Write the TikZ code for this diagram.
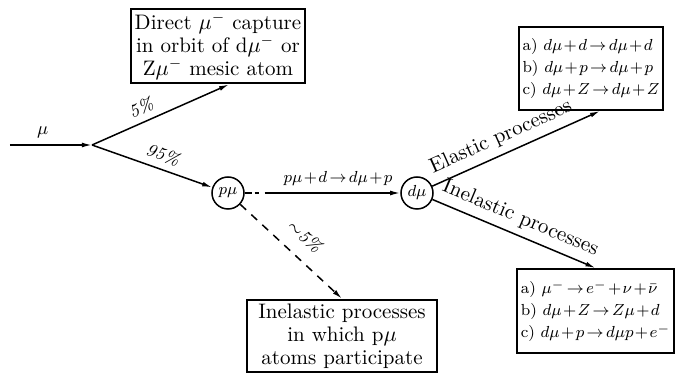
\documentclass[tikz,border=0pt]{standalone}
\usepackage{amsmath}
\usetikzlibrary{arrows.meta,positioning}
\newcommand\tightmath{\medmuskip=1.5mu\relax\thickmuskip=2.5mu\relax}

\begin{document}
\begin{tikzpicture}[x=0.5pt,y=-0.5pt,
  procbox/.style={draw,line width=1pt,align=center,inner sep=2pt,
    minimum width=83.5pt,minimum height=36pt,font=\fontsize{10.5}{11.5}\selectfont},
  reacbox/.style={draw,line width=1pt,align=left,inner sep=2pt,
    font=\fontsize{8}{11}\selectfont\tightmath},
  atom/.style={draw,circle,line width=0.75pt,minimum size=16pt,inner sep=0pt,font=\footnotesize},
  arr/.style={-{Latex[length=5pt,width=2.4pt]},line width=0.75pt},
  lbl/.style={font=\small\itshape,sloped,above}
]
  \useasboundingbox (0,0) rectangle (677,374);

  % Incoming muon
  \coordinate (start) at (10,145);
  \coordinate (split) at (92,145);
  \draw[arr] (start) -- (split) node[lbl,pos=0.4] {$\mu$};

  % Mesic atoms
  \node[atom] (pmu) at (228,193) {$p\mu$};
  \node[atom] (dmu) at (417,193) {$d\mu$};

  % Process boxes
  \node[procbox] (capture) at (218,46)
    {Direct $\mu^-$ capture\\in orbit of d$\mu^-$ or\\Z$\mu^-$ mesic atom};
  \node[procbox,minimum width=95pt] (pinel) at (342,336)
    {Inelastic processes\\in which p$\mu$\\atoms participate};
  \node[reacbox,minimum width=69pt,minimum height=41.5pt] (elastic) at (591,68.5)
    {a) $d\mu+d\to d\mu+d$\\b) $d\mu+p\to d\mu+p$\\c) $d\mu+Z\to d\mu+Z$};
  \node[reacbox,minimum width=73.5pt,minimum height=42pt] (inelastic) at (595.5,311)
    {a) $\mu^-\to e^-+\nu+\bar{\nu}$\\b) $d\mu+Z\to Z\mu+d$\\c) $d\mu+p\to d\mu p+e^-$};

  % Branches
  \draw[arr] (split) -- (capture.-74) node[lbl,pos=0.4] {5\%};
  \draw[arr] (split) -- (pmu) node[lbl,pos=0.55] {95\%};
  \draw[arr,dash pattern=on 3.5pt off 1.5pt on 2pt off 3pt on 400pt] (pmu) -- (dmu)
    node[above,pos=0.6,font=\footnotesize\tightmath] {$p\mu+d\to d\mu+p$};
  \draw[arr,dash pattern=on 4pt off 3.5pt] (pmu) -- (pinel.north)
    node[lbl,above=3pt,pos=0.5] {$\sim$5\%};
  \draw[arr] (dmu) -- (elastic.-78)
    node[above,sloped,pos=0.45,font=\fontsize{10.5}{12}\selectfont] {Elastic processes};
  \draw[arr] (dmu) -- (inelastic.north)
    node[above,sloped,pos=0.5,font=\fontsize{10.5}{12}\selectfont] {Inelastic processes};
\end{tikzpicture}
\end{document}
